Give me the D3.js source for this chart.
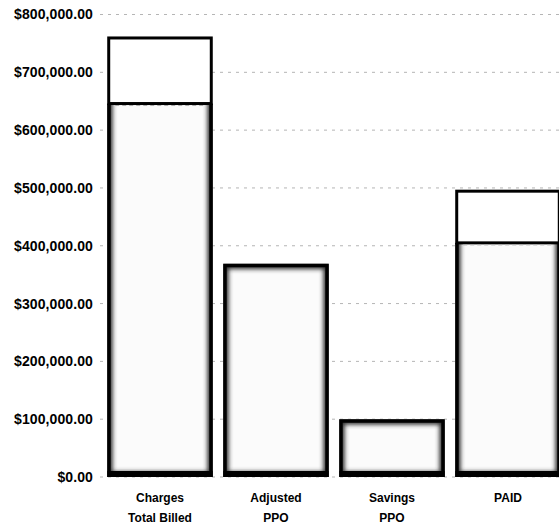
<!DOCTYPE html>
<html><head><meta charset="utf-8">
<script src="https://cdn.jsdelivr.net/npm/d3@7"></script>
<style>body{margin:0;background:#fff}svg{display:block}</style></head>
<body>
<svg id="c" width="559" height="528"></svg>
<script>
// Data
const categories = ["Charges", "Adjusted", "Savings", "PAID"];
const categoryLine2 = ["Total Billed", "PPO", "PPO", ""];
const lowerValues = [646000, 369000, 100000, 405000];
const upperValues = [116000, 0, 0, 92000];
const tickValues = [0, 100000, 200000, 300000, 400000, 500000, 600000, 700000, 800000];

const svg = d3.select("#c");
const W = 559, H = 528;

const y = d3.scaleLinear().domain([0, 800000]).range([477, 14.5]);
const x = d3.scaleBand().domain(categories).range([102, 566]).paddingInner(0.09).paddingOuter(0.045);

const defs = svg.append("defs");
const blur = defs.append("filter").attr("id", "soft").attr("x", "-20%").attr("y", "-20%").attr("width", "140%").attr("height", "140%");
blur.append("feGaussianBlur").attr("stdDeviation", 2.2);

// gridlines
svg.append("g").selectAll("line").data(tickValues).join("line")
  .attr("x1", 100).attr("x2", W)
  .attr("y1", d => y(d)).attr("y2", d => y(d))
  .attr("stroke", "#b5b5b5").attr("stroke-width", 1).attr("stroke-dasharray", "3,5");

// axis
const axis = svg.append("g").attr("transform", "translate(100,0)")
  .call(d3.axisLeft(y).tickValues(tickValues).tickSize(0).tickPadding(7).tickFormat(d3.format("$,.2f")));
axis.select(".domain").remove();
axis.selectAll("text").attr("font-family", "'Liberation Sans', Arial, sans-serif")
  .attr("font-weight", "bold").attr("font-size", 14).attr("fill", "#000").attr("letter-spacing", "0.1");

// bars
const bars = svg.append("g");
categories.forEach((c, i) => {
  const x0 = x(c), bw = x.bandwidth();
  const lowTop = y(lowerValues[i]), base = y(0);
  const stacked = upperValues[i] > 0;
  const g = bars.append("g");
  const cid = "clip" + i;
  defs.append("clipPath").attr("id", cid).append("rect")
    .attr("x", x0).attr("y", lowTop).attr("width", bw).attr("height", base - lowTop);
  g.append("rect").attr("x", x0).attr("y", lowTop).attr("width", bw).attr("height", base - lowTop)
    .attr("fill", "#fbfbfb");
  const inner = g.append("g").attr("clip-path", `url(#${cid})`);
  const topInset = stacked ? -6 : 2;
  inner.append("rect").attr("x", x0 + 2).attr("y", lowTop + topInset).attr("width", bw - 4).attr("height", base - lowTop - 2 - topInset)
    .attr("fill", "none").attr("stroke", "#333").attr("stroke-width", 7).attr("filter", "url(#soft)");
  // sides and bottom (and top when not stacked)
  const p = d3.path();
  if (stacked) {
    p.moveTo(x0, lowTop); p.lineTo(x0, base); p.lineTo(x0 + bw, base); p.lineTo(x0 + bw, lowTop);
  } else {
    p.rect(x0, lowTop, bw, base - lowTop);
  }
  inner.append("path").attr("d", p.toString()).attr("fill", "none").attr("stroke", "#000").attr("stroke-width", 7);
  inner.append("rect").attr("x", x0).attr("y", base - 6).attr("width", bw).attr("height", 6).attr("fill", "#000");
  if (stacked) {
    const upTop = y(lowerValues[i] + upperValues[i]);
    g.append("rect").attr("x", x0 + 1.5).attr("y", upTop + 1.5).attr("width", bw - 3).attr("height", lowTop - upTop - 1.5)
      .attr("fill", "#fff").attr("stroke", "#000").attr("stroke-width", 3);
    g.append("line").attr("x1", x0 + 8).attr("x2", x0 + bw - 8).attr("y1", lowTop + 2).attr("y2", lowTop + 2)
      .attr("stroke", "#aaa").attr("stroke-width", 1).attr("stroke-dasharray", "4,3");
  }
});

// category labels
const lab = svg.append("g").attr("font-family", "'Liberation Sans', Arial, sans-serif")
  .attr("font-weight", "bold").attr("font-size", 12).attr("text-anchor", "middle").attr("fill", "#000");
categories.forEach((c, i) => {
  const cx = x(c) + x.bandwidth() / 2;
  lab.append("text").attr("x", cx).attr("y", 502).text(c);
  if (categoryLine2[i]) lab.append("text").attr("x", cx).attr("y", 522).text(categoryLine2[i]);
});
</script>
</body></html>
